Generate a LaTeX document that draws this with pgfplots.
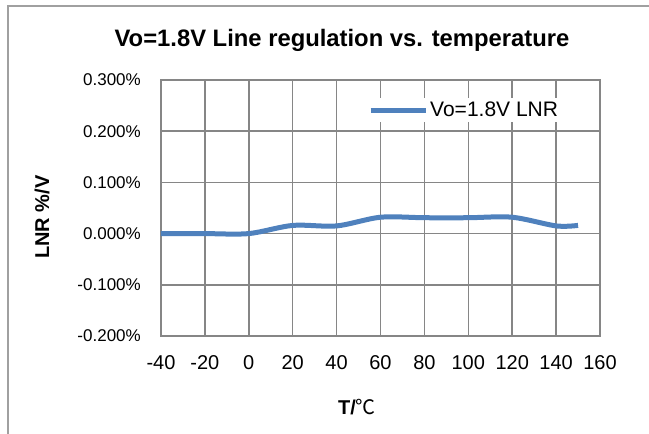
\documentclass[border=0pt]{standalone}
\usepackage{pgfplots}
\pgfplotsset{compat=1.18}
\usepackage{fontspec}
\setmainfont{Liberation Sans}
\newfontfamily\cjk{Noto Sans CJK SC}
\definecolor{gridgray}{RGB}{134,134,134}
\definecolor{borderg}{RGB}{160,160,160}
\definecolor{lineblue}{RGB}{79,129,189}
\begin{document}
\begin{tikzpicture}[x=1pt,y=1pt]
\path[use as bounding box] (0,0) rectangle (649,434);
\draw[borderg, line width=2pt] (8,0) -- (8,428) -- (649,428);
\node[font=\bfseries\fontsize{23.8}{28}\selectfont] at (342,394) {Vo=1.8V Line regulation vs. temperature};
\node[font=\bfseries\fontsize{20}{24}\selectfont, rotate=90] at (42,217) {LNR \%/V};
\node[font=\bfseries\fontsize{20}{24}\selectfont] at (357,27) {T/{\mdseries\cjk ℃}};
\begin{axis}[at={(161pt,98pt)}, anchor=south west, scale only axis,
  width=439pt, height=256pt,
  xmin=-40, xmax=160, ymin=-0.2, ymax=0.3,
  xtick={-40,-20,0,20,40,60,80,100,120,140,160},
  xticklabels={-40,-20,0,20,40,60,80,100,120,140,160},
  ytick={-0.2,-0.1,0,0.1,0.2,0.3},
  yticklabels={-0.200\%,-0.100\%,0.000\%,0.100\%,0.200\%,0.300\%},
  grid=major,
  major grid style={gridgray, line width=1.5pt},
  axis line style={gridgray, line width=1.5pt},
  tick style={draw=none},
  xticklabel style={font=\fontsize{20}{24}\selectfont, inner sep=0pt, anchor=north, yshift=-19pt},
  yticklabel style={font=\fontsize{17}{20}\selectfont, inner sep=0pt, anchor=east, xshift=-20pt},
  legend style={draw=none, fill=white, inner xsep=6pt, inner ysep=2pt,
    at={(axis description cs:0.4579,0.8828)}, anchor=west,
    font=\fontsize{21}{24}\selectfont},
  legend cell align=left,
  legend image code/.code={\draw[#1] (0pt,0pt) -- (55pt,0pt);},
]
\addplot[lineblue, line width=5pt, smooth] coordinates {
(-40,0) (-20,0) (0,0) (20,0.016) (40,0.015) (60,0.032) (80,0.031) (100,0.031) (120,0.032) (140,0.015) (150,0.016)
};
\addlegendentry{Vo=1.8V LNR\hspace{30pt}}
\end{axis}
\end{tikzpicture}
\end{document}
